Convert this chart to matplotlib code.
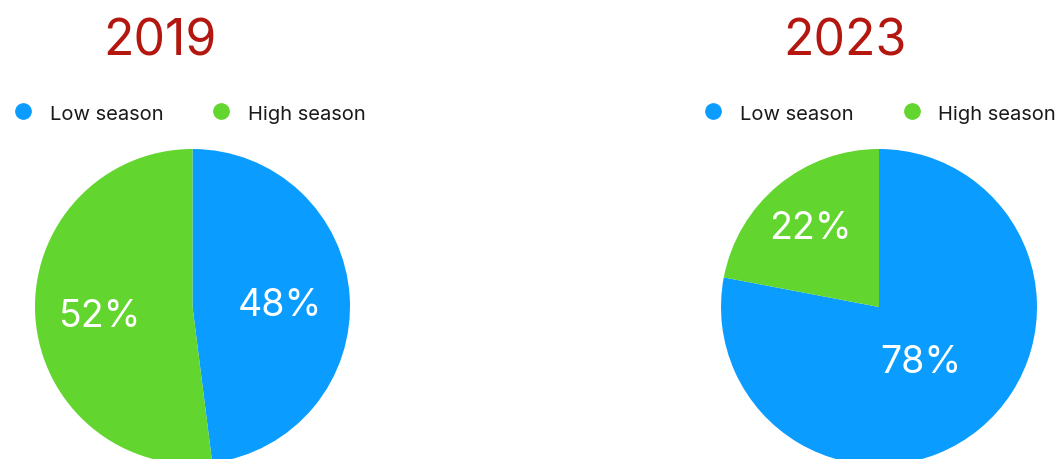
import matplotlib
matplotlib.use("Agg")
import matplotlib.pyplot as plt
from matplotlib.lines import Line2D
import numpy as np

plt.rcParams['font.family'] = ['Inter', 'DejaVu Sans']

years = ["2019", "2023"]
seasons = ["Low season", "High season"]
shares_2019 = [48, 52]
shares_2023 = [78, 22]

BLUE = "#0A9DFF"
GREEN = "#62D52F"
RED = "#B3170F"
CAP = 0.727  # cap height of Inter, as a fraction of the font size

W, H = 1059, 460
fig = plt.figure(figsize=(W / 100, H / 100), dpi=100)
fig.patch.set_facecolor("white")


def fx(x):
    return x / W


def fy(y):
    return 1 - y / H


def px_axes(cx, cy, r):
    # square axes whose data range [-1, 1] maps onto a circle of radius r px
    return fig.add_axes([(cx - r) / W, (H - cy - r) / H, 2 * r / W, 2 * r / H])


def draw_pie(ax, shares, label_dist, fs=27):
    wedges, _ = ax.pie(shares, colors=[BLUE, GREEN], startangle=90,
                       counterclock=False, radius=1,
                       wedgeprops=dict(linewidth=0))
    for w, v, d in zip(wedges, shares, label_dist):
        mid = np.deg2rad((w.theta1 + w.theta2) / 2)
        ax.annotate(f"{v}%", (d * np.cos(mid), d * np.sin(mid)),
                    xytext=(0, -CAP * fs / 2), textcoords="offset points",
                    color="white", fontsize=fs, ha="center", va="baseline")
    ax.set_xlim(-1, 1)
    ax.set_ylim(-1, 1)
    ax.set_aspect("equal")
    ax.axis("off")


ax1 = px_axes(192.5, 307.5, 157.5)
draw_pie(ax1, shares_2019, [0.555, 0.59])
ax2 = px_axes(879, 308, 158)
draw_pie(ax2, shares_2023, [0.42, 0.68])


def draw_legend(x0):
    # dot + label pairs, laid out in pixels from the left edge x0
    for dx, color, label in [(0, BLUE, seasons[0]), (198.5, GREEN, seasons[1])]:
        fig.add_artist(Line2D([fx(x0 + dx)], [fy(112)], marker="o",
                              linestyle="none", markersize=11,
                              markerfacecolor=color, markeredgecolor=color,
                              transform=fig.transFigure))
        fig.text(fx(x0 + dx + 27), fy(120), label, fontsize=14.5,
                 color="#1a1a1a", ha="left", va="baseline")


for year, tx, lx in [(years[0], 160, 22.5), (years[1], 845, 713)]:
    fig.text(fx(tx), fy(55), year, color=RED, fontsize=36,
             ha="center", va="baseline")
    draw_legend(lx)

fig.savefig("out.png", dpi=100, facecolor="white")
